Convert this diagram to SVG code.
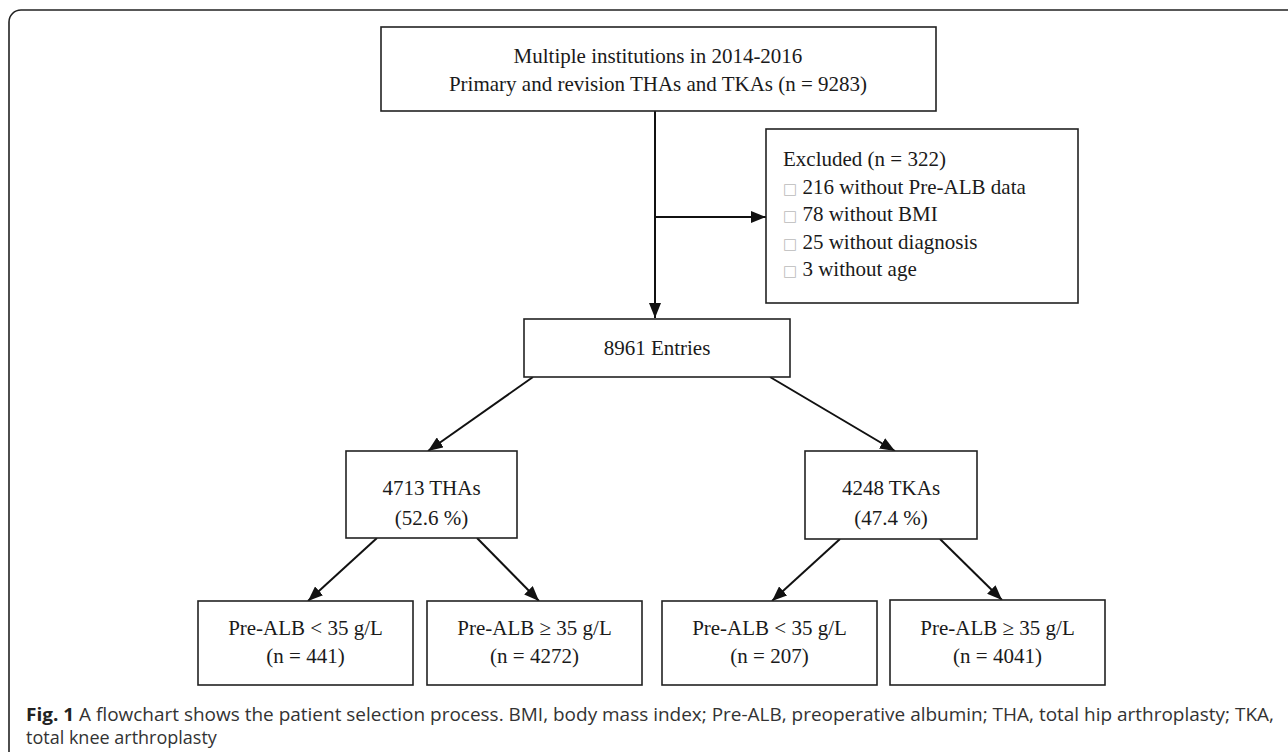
<svg xmlns="http://www.w3.org/2000/svg" width="1288" height="752" viewBox="0 0 1288 752">
<defs>
<marker id="ah" viewBox="0 0 15 12" markerWidth="15" markerHeight="12" refX="15" refY="6" orient="auto" markerUnits="userSpaceOnUse">
<path d="M0,0 L15,6 L0,12 z" fill="#111"/>
</marker>
<style>
.box{fill:#fff;stroke:#222;stroke-width:1.6}
.t{font-family:"Liberation Serif","Times New Roman",serif;font-size:21px;fill:#1a1a1a}
.c{text-anchor:middle}
.cb{font-family:"DejaVu Sans",sans-serif;font-size:15px;fill:#bbb}
.cap{font-family:"Open Sans","Noto Sans",sans-serif;font-size:18px;fill:#333}
.conn line,.conn path{stroke:#111;stroke-width:2;fill:none;marker-end:url(#ah)}
</style>
</defs>
<rect width="1288" height="752" fill="#fff"/>
<rect x="9" y="10" width="1290" height="800" rx="12" ry="12" fill="none" stroke="#222" stroke-width="1.6"/>

<g id="connectors" class="conn">
<path d="M655,111 V318"/>
<path d="M655,217 H766"/>
<line x1="533" y1="377" x2="428" y2="451"/>
<line x1="770" y1="377" x2="895" y2="451"/>
<line x1="377" y1="538" x2="308" y2="601"/>
<line x1="477" y1="538" x2="539" y2="601"/>
<line x1="840" y1="539" x2="772" y2="601"/>
<line x1="940" y1="539" x2="1002" y2="600"/>
</g>

<g id="source">
<rect class="box" x="381" y="27" width="555" height="84"/>
<text class="t c" x="658" y="63">Multiple institutions in 2014-2016</text>
<text class="t c" x="658" y="91">Primary and revision THAs and TKAs (n = 9283)</text>
</g>

<g id="excluded">
<rect class="box" x="766" y="129" width="312" height="174"/>
<text class="t" x="783" y="166">Excluded (n = 322)</text>
<text class="t" x="783" y="193.5"><tspan class="cb">□</tspan> 216 without Pre-ALB data</text>
<text class="t" x="783" y="221"><tspan class="cb">□</tspan> 78 without BMI</text>
<text class="t" x="783" y="248.5"><tspan class="cb">□</tspan> 25 without diagnosis</text>
<text class="t" x="783" y="276"><tspan class="cb">□</tspan> 3 without age</text>
</g>

<g id="entries">
<rect class="box" x="524" y="319" width="266" height="58"/>
<text class="t c" x="657" y="355">8961 Entries</text>
</g>

<g id="tha">
<rect class="box" x="346" y="451" width="171" height="87"/>
<text class="t c" x="431.5" y="495">4713 THAs</text>
<text class="t c" x="431.5" y="525">(52.6 %)</text>
</g>

<g id="tka">
<rect class="box" x="805" y="451" width="172" height="88"/>
<text class="t c" x="891" y="495">4248 TKAs</text>
<text class="t c" x="891" y="525">(47.4 %)</text>
</g>

<g id="tha-low">
<rect class="box" x="198" y="601" width="215" height="84"/>
<text class="t c" x="305.5" y="635">Pre-ALB &lt; 35 g/L</text>
<text class="t c" x="305.5" y="663">(n = 441)</text>
</g>

<g id="tha-high">
<rect class="box" x="427" y="601" width="215" height="84"/>
<text class="t c" x="534.5" y="635">Pre-ALB ≥ 35 g/L</text>
<text class="t c" x="534.5" y="663">(n = 4272)</text>
</g>

<g id="tka-low">
<rect class="box" x="662" y="601" width="215" height="84"/>
<text class="t c" x="769.5" y="635">Pre-ALB &lt; 35 g/L</text>
<text class="t c" x="769.5" y="663">(n = 207)</text>
</g>

<g id="tka-high">
<rect class="box" x="890" y="600" width="215" height="85"/>
<text class="t c" x="997.5" y="635">Pre-ALB ≥ 35 g/L</text>
<text class="t c" x="997.5" y="663">(n = 4041)</text>
</g>

<g id="caption">
<text class="cap" x="26" y="721" textLength="1248" lengthAdjust="spacingAndGlyphs"><tspan font-weight="bold" fill="#222">Fig. 1</tspan> A flowchart shows the patient selection process. BMI, body mass index; Pre-ALB, preoperative albumin; THA, total hip arthroplasty; TKA,</text>
<text class="cap" x="26" y="744">total knee arthroplasty</text>
</g>
</svg>
